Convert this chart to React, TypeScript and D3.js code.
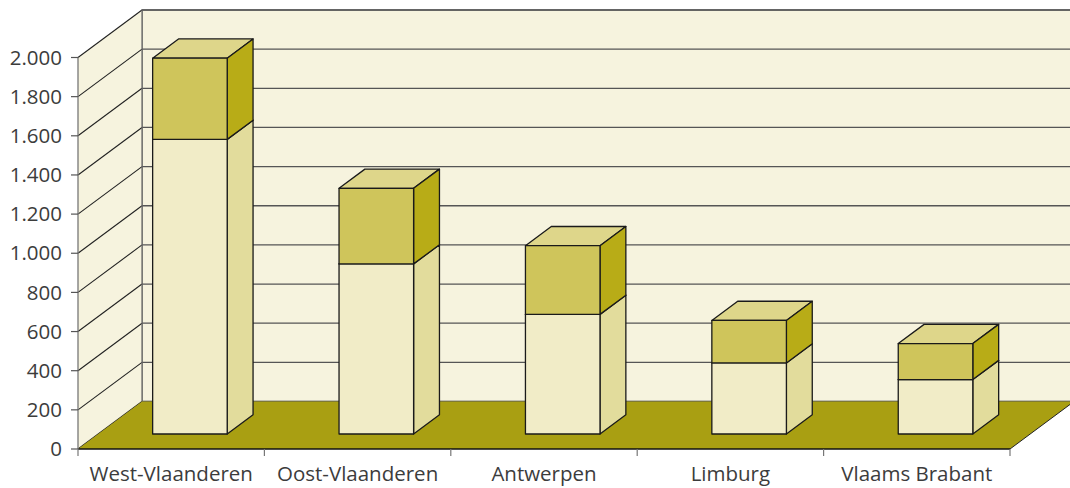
import React from "react";
import * as d3 from "d3";

const provinces = ["West-Vlaanderen", "Oost-Vlaanderen", "Antwerpen", "Limburg", "Vlaams Brabant"];
const lowerValues = [1505, 869, 611, 363, 278];
const upperValues = [415, 386, 351, 217, 184];
const yTicks = [0, 200, 400, 600, 800, 1000, 1200, 1400, 1600, 1800, 2000];

const W = 1070;
const H = 488;
const DX = 64;   // depth offset of the back wall
const DY = 47.5;
const barD0 = 0.316; // bar depth range, as fraction of full depth
const barD1 = 0.72;

const fmt = (v: number) => d3.format(",")(v).replace(/,/g, ".");

export default function App() {
  const x = d3.scaleBand<string>().domain(provinces).range([78, 1010]).padding(0);
  const y = d3.scaleLinear().domain([0, 2000]).range([449, 57.5]);
  const barW = x.step() * 0.4;

  // project a point on the front plane to the given depth
  const P = (px: number, v: number, d: number): [number, number] => [px + d * DX, y(v) - d * DY];
  const poly = (pts: [number, number][]) => pts.map(p => p.join(",")).join(" ");

  const x0 = 78, x1 = 1010;
  const top = 2000;

  const segments: { name: string; lo: number; hi: number; front: string; side: string; topc: string }[] = [];
  provinces.forEach((p, i) => {
    const a = lowerValues[i];
    const b = a + upperValues[i];
    segments.push({ name: p, lo: 0, hi: a, front: "#f1ecc7", side: "#e2dc9c", topc: "#e9e3b3" });
    segments.push({ name: p, lo: a, hi: b, front: "#cfc55b", side: "#b8ac17", topc: "#ded68a" });
  });

  return (
    <svg width={W} height={H} style={{ position: "absolute", left: 0, top: 0, background: "#fff" }}
      fontFamily="'Open Sans', sans-serif">
      {/* back wall */}
      <rect x={x0 + DX} y={y(top) - DY} width={W - (x0 + DX) + 10} height={y(0) - y(top)} fill="#f6f3de" stroke="#555" strokeWidth={1.2} />
      {/* left wall */}
      <polygon points={poly([P(x0, 0, 0), P(x0, top, 0), P(x0, top, 1), P(x0, 0, 1)])} fill="#f6f3de" />
      {/* gridlines */}
      {yTicks.map(t => (
        <g key={t}>
          <line x1={P(x0, t, 0)[0]} y1={P(x0, t, 0)[1]} x2={P(x0, t, 1)[0]} y2={P(x0, t, 1)[1]} stroke="#222" strokeWidth={1.1} />
          <line x1={P(x0, t, 1)[0]} y1={P(x0, t, 1)[1]} x2={W} y2={P(x0, t, 1)[1]} stroke="#555" strokeWidth={1.3} />
        </g>
      ))}
      <line x1={x0 + DX} y1={y(top) - DY} x2={x0 + DX} y2={y(0) - DY} stroke="#666" strokeWidth={1.2} />
      {/* floor */}
      <polygon points={poly([P(x0, 0, 0), P(x1, 0, 0), P(x1, 0, 1), P(x0, 0, 1)])} fill="#a99f12" />
      <line x1={x0} y1={y(0)} x2={x1} y2={y(0)} stroke="#111" strokeWidth={1.5} />
      <line x1={P(x1, 0, 0)[0]} y1={P(x1, 0, 0)[1]} x2={P(x1, 0, 1)[0]} y2={P(x1, 0, 1)[1]} stroke="#222" strokeWidth={1} />
      {/* y axis */}
      <line x1={x0} y1={y(0)} x2={x0} y2={y(top)} stroke="#777" strokeWidth={1.3} />
      {yTicks.map(t => (
        <g key={"yt" + t}>
          <line x1={x0 - 7} y1={y(t)} x2={x0} y2={y(t)} stroke="#555" strokeWidth={1.2} />
          <text x={x0 - 16} y={y(t)} dy="0.35em" textAnchor="end" fontSize={20.5} fill="#3c3c3c">{fmt(t)}</text>
        </g>
      ))}
      {/* x axis ticks and labels */}
      {d3.range(provinces.length + 1).map(i => (
        <line key={"xt" + i} x1={x0 + i * x.step()} y1={y(0)} x2={x0 + i * x.step()} y2={y(0) + 7} stroke="#777" strokeWidth={1.2} />
      ))}
      {provinces.map(p => (
        <text key={"xl" + p} x={(x(p) as number) + x.step() / 2} y={481} textAnchor="middle" fontSize={20.5} fill="#3c3c3c">{p}</text>
      ))}
      {/* bars */}
      {segments.map((s, i) => {
        const cx = (x(s.name) as number) + x.step() / 2 - 1.5;
        const l = cx - barW / 2;
        const r = cx + barW / 2;
        const front = [P(l, s.lo, barD0), P(r, s.lo, barD0), P(r, s.hi, barD0), P(l, s.hi, barD0)] as [number, number][];
        const side = [P(r, s.lo, barD0), P(r, s.lo, barD1), P(r, s.hi, barD1), P(r, s.hi, barD0)] as [number, number][];
        const topF = [P(l, s.hi, barD0), P(r, s.hi, barD0), P(r, s.hi, barD1), P(l, s.hi, barD1)] as [number, number][];
        return (
          <g key={"b" + i} stroke="#1a1a1a" strokeWidth={1.3} strokeLinejoin="round">
            <polygon points={poly(topF)} fill={s.topc} />
            <polygon points={poly(side)} fill={s.side} />
            <polygon points={poly(front)} fill={s.front} />
          </g>
        );
      })}
    </svg>
  );
}
